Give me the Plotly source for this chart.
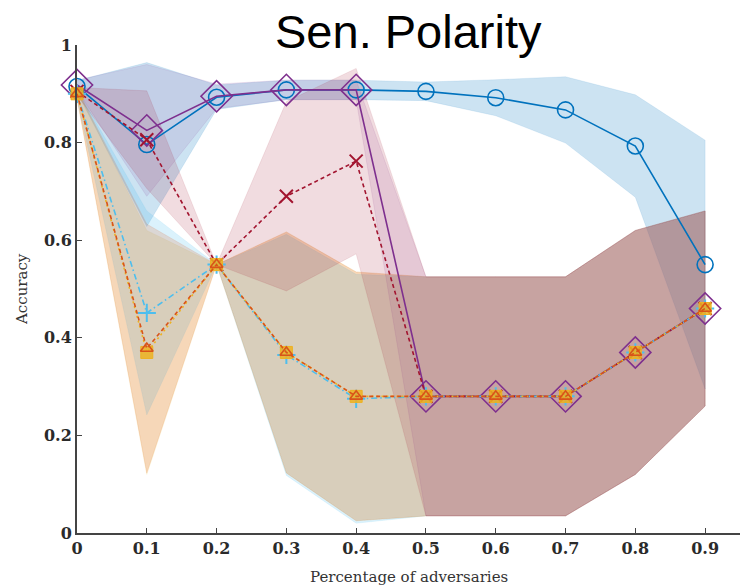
import plotly.graph_objects as go

# Fraction of adversarial participants on the x axis
adversaries = [0.0, 0.1, 0.2, 0.3, 0.4, 0.5, 0.6, 0.7, 0.8, 0.9]

# Mean accuracy and spread (one standard deviation) for each method
blue_mean = [0.915, 0.796, 0.893, 0.908, 0.908, 0.905, 0.892, 0.867, 0.793, 0.550]
blue_std = [0.012, 0.168, 0.025, 0.020, 0.020, 0.019, 0.037, 0.068, 0.105, 0.255]

orange_mean = [0.900, 0.378, 0.550, 0.370, 0.280, 0.280, 0.280, 0.280, 0.370, 0.460]
orange_std = [0.010, 0.255, 0.000, 0.247, 0.255, 0.245, 0.245, 0.245, 0.250, 0.200]

yellow_mean = [0.900, 0.370, 0.550, 0.370, 0.280, 0.280, 0.280, 0.280, 0.370, 0.460]
yellow_std = [0.010, 0.250, 0.000, 0.247, 0.255, 0.245, 0.245, 0.245, 0.250, 0.200]

purple_mean = [0.918, 0.825, 0.895, 0.908, 0.908, 0.280, 0.280, 0.280, 0.370, 0.460]
purple_std = [0.010, 0.135, 0.025, 0.020, 0.020, 0.245, 0.245, 0.245, 0.250, 0.200]

cyan_mean = [0.900, 0.451, 0.550, 0.365, 0.275, 0.280, 0.280, 0.280, 0.370, 0.460]
cyan_std = [0.010, 0.209, 0.000, 0.247, 0.255, 0.245, 0.245, 0.245, 0.250, 0.200]

red_mean = [0.905, 0.806, 0.550, 0.690, 0.762, 0.280, 0.280, 0.280, 0.370, 0.460]
red_std = [0.008, 0.100, 0.000, 0.194, 0.190, 0.245, 0.245, 0.245, 0.250, 0.200]

x_tick_vals = [0, 0.1, 0.2, 0.3, 0.4, 0.5, 0.6, 0.7, 0.8, 0.9]
x_tick_text = ["0", "0.1", "0.2", "0.3", "0.4", "0.5", "0.6", "0.7", "0.8", "0.9"]
y_tick_vals = [0, 0.2, 0.4, 0.6, 0.8, 1.0]
y_tick_text = ["0", "0.2", "0.4", "0.6", "0.8", "1"]

title_text = "Sen. Polarity"
x_title = "Percentage of adversaries"
y_title = "Accuracy"

BLUE = (0, 114, 189)
ORANGE = (217, 83, 25)
YELLOW = (237, 177, 32)
PURPLE = (126, 47, 142)
CYAN = (77, 190, 238)
RED = (162, 20, 47)

styles = {
    "blue": dict(mean=blue_mean, std=blue_std, rgb=BLUE, alpha=0.2, dash="solid",
                 symbol="circle-open", size=16, mlw=1.6),
    "orange": dict(mean=orange_mean, std=orange_std, rgb=ORANGE, alpha=0.17,
                   dash="4px,3px", symbol="triangle-up-open", size=11, mlw=1.6),
    "yellow": dict(mean=yellow_mean, std=yellow_std, rgb=YELLOW, alpha=0.17,
                   dash="2px,3px", symbol="square", size=12, mlw=1.0),
    "purple": dict(mean=purple_mean, std=purple_std, rgb=PURPLE, alpha=0.11,
                   dash="solid", symbol="diamond-open", size=24, mlw=1.6),
    "cyan": dict(mean=cyan_mean, std=cyan_std, rgb=CYAN, alpha=0.2,
                 dash="6px,3px,1.5px,3px", symbol="cross-thin-open", size=13, mlw=2.0),
    "red": dict(mean=red_mean, std=red_std, rgb=RED, alpha=0.15, dash="4px,3px",
                symbol="x-thin-open", size=13, mlw=2.0),
}

band_order = ["blue", "yellow", "cyan", "orange", "purple", "red"]
line_order = ["blue", "purple", "red", "cyan", "yellow", "orange"]

fig = go.Figure()

# Shaded spread bands (mean +/- std), drawn first so the lines sit on top
for key in band_order:
    s = styles[key]
    upper = [m + d for m, d in zip(s["mean"], s["std"])]
    lower = [m - d for m, d in zip(s["mean"], s["std"])]
    r, g, b = s["rgb"]
    fig.add_trace(go.Scatter(
        x=adversaries + adversaries[::-1],
        y=upper + lower[::-1],
        fill="toself",
        fillcolor=f"rgba({r},{g},{b},{s['alpha']})",
        line=dict(width=0.8, color=f"rgba({r},{g},{b},0.12)"),
        mode="lines",
        hoverinfo="skip",
        showlegend=False,
    ))

# Mean curves with markers
for key in line_order:
    s = styles[key]
    r, g, b = s["rgb"]
    col = f"rgb({r},{g},{b})"
    marker = dict(symbol=s["symbol"], size=s["size"], color=col,
                  line=dict(width=s["mlw"], color=col))
    if s["symbol"] == "square":
        marker["color"] = f"rgba({r},{g},{b},0.85)"
    fig.add_trace(go.Scatter(
        x=adversaries, y=s["mean"],
        mode="lines+markers",
        line=dict(color=col, width=1.6, dash=s["dash"]),
        marker=marker,
        cliponaxis=False,
        showlegend=False,
    ))

axis_font = dict(family="DejaVu Serif", size=16, color="#2a2a2a", weight="bold")

fig.update_layout(
    width=740, height=588,
    margin=dict(l=77, r=0, t=45, b=55),
    paper_bgcolor="white", plot_bgcolor="white",
    showlegend=False,
    xaxis=dict(
        range=[0, 0.95], tickvals=x_tick_vals, ticktext=x_tick_text,
        ticks="inside", ticklen=5, tickwidth=1, tickcolor="#444444",
        showline=True, linecolor="#444444", linewidth=2,
        showgrid=False, zeroline=False, tickfont=axis_font,
    ),
    yaxis=dict(
        range=[0, 1], tickvals=y_tick_vals, ticktext=y_tick_text,
        ticks="inside", ticklen=5, tickwidth=1, tickcolor="#444444",
        showline=True, linecolor="#444444", linewidth=2,
        showgrid=False, zeroline=False, tickfont=axis_font,
    ),
    annotations=[
        dict(text=title_text, xref="paper", yref="paper", x=0.5, y=1.0,
             xanchor="center", yanchor="bottom", yshift=-15, showarrow=False,
             font=dict(family="Liberation Sans", size=47, color="black")),
        dict(text=x_title, xref="paper", yref="paper", x=0.5, y=0,
             xanchor="center", yanchor="top", yshift=-33, showarrow=False,
             font=dict(family="DejaVu Serif", size=15, color="#333333")),
        dict(text=y_title, xref="paper", yref="paper", x=0, y=0.5,
             xanchor="center", yanchor="middle", xshift=-55, textangle=-90,
             showarrow=False,
             font=dict(family="DejaVu Serif", size=15, color="#333333")),
    ],
)

fig.write_html("out.html")
